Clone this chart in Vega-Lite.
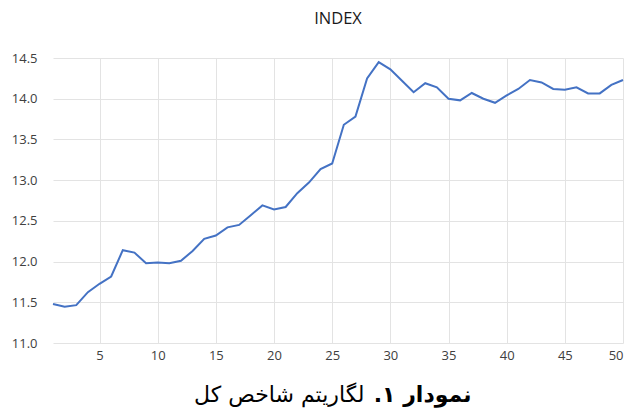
{
  "$schema": "https://vega.github.io/schema/vega-lite/v6.json",
  "width": 570,
  "height": 285,
  "autosize": {"type": "none"},
  "padding": {"left": 53, "top": 58, "right": 9, "bottom": 67},
  "background": "white",
  "title": {"text": "INDEX", "font": "Open Sans", "fontSize": 16.5, "fontWeight": "normal", "color": "#1a1a1a", "offset": 25, "anchor": "middle"},
  "data": {"values": [
    {"t": 1, "v": 11.48}, {"t": 2, "v": 11.445}, {"t": 3, "v": 11.465}, {"t": 4, "v": 11.624}, {"t": 5, "v": 11.727},
    {"t": 6, "v": 11.817}, {"t": 7, "v": 12.14}, {"t": 8, "v": 12.11}, {"t": 9, "v": 11.98}, {"t": 10, "v": 11.99},
    {"t": 11, "v": 11.98}, {"t": 12, "v": 12.01}, {"t": 13, "v": 12.13}, {"t": 14, "v": 12.28}, {"t": 15, "v": 12.32},
    {"t": 16, "v": 12.42}, {"t": 17, "v": 12.45}, {"t": 18, "v": 12.57}, {"t": 19, "v": 12.69}, {"t": 20, "v": 12.64},
    {"t": 21, "v": 12.67}, {"t": 22, "v": 12.84}, {"t": 23, "v": 12.97}, {"t": 24, "v": 13.135}, {"t": 25, "v": 13.205},
    {"t": 26, "v": 13.68}, {"t": 27, "v": 13.78}, {"t": 28, "v": 14.25}, {"t": 29, "v": 14.45}, {"t": 30, "v": 14.36},
    {"t": 31, "v": 14.22}, {"t": 32, "v": 14.08}, {"t": 33, "v": 14.19}, {"t": 34, "v": 14.14}, {"t": 35, "v": 14.0},
    {"t": 36, "v": 13.98}, {"t": 37, "v": 14.07}, {"t": 38, "v": 14.0}, {"t": 39, "v": 13.95}, {"t": 40, "v": 14.04},
    {"t": 41, "v": 14.12}, {"t": 42, "v": 14.23}, {"t": 43, "v": 14.2}, {"t": 44, "v": 14.12}, {"t": 45, "v": 14.11},
    {"t": 46, "v": 14.14}, {"t": 47, "v": 14.065}, {"t": 48, "v": 14.065}, {"t": 49, "v": 14.17}, {"t": 50, "v": 14.23}
  ]},
  "layer": [
    {
      "mark": {"type": "line", "color": "#4472C4", "strokeWidth": 2},
      "encoding": {
        "x": {
          "field": "t", "type": "quantitative",
          "scale": {"domain": [1, 50], "nice": false, "zero": false},
          "axis": {
            "orient": "bottom",
            "values": [5, 10, 15, 20, 25, 30, 35, 40, 45, 50],
            "domain": false, "ticks": false, "gridColor": "#e3e3e3", "gridWidth": 1,
            "labelFont": "Open Sans", "labelFontSize": 13, "labelColor": "#404040", "labelPadding": 6,
            "title": "لگاریتم شاخص کل",
            "titleFont": "DejaVu Sans", "titleFontSize": 22, "titleFontWeight": "normal", "titleColor": "#000000",
            "titleAlign": "right", "titleAnchor": null, "titleX": 311, "titleY": 58, "titleBaseline": "alphabetic"
          }
        },
        "y": {
          "field": "v", "type": "quantitative",
          "scale": {"domain": [11, 14.5], "nice": false, "zero": false},
          "axis": {
            "values": [11, 11.5, 12, 12.5, 13, 13.5, 14, 14.5],
            "format": ".1f",
            "domain": false, "ticks": false, "gridColor": "#e3e3e3", "gridWidth": 1,
            "labelFont": "Open Sans", "labelFontSize": 13, "labelColor": "#404040", "labelPadding": 16,
            "title": null
          }
        }
      }
    },
    {
      "mark": {"type": "line", "opacity": 0},
      "encoding": {
        "x": {
          "field": "t", "type": "quantitative",
          "scale": {"domain": [1, 50], "nice": false, "zero": false},
          "axis": {
            "orient": "bottom",
            "labels": false, "grid": false, "domain": false, "ticks": false,
            "title": "نمودار ۱.\u200f",
            "titleFont": "DejaVu Sans", "titleFontSize": 22, "titleFontWeight": "bold", "titleColor": "#000000",
            "titleAlign": "right", "titleAnchor": null, "titleX": 418, "titleY": 58, "titleBaseline": "alphabetic"
          }
        },
        "y": {"field": "v", "type": "quantitative", "scale": {"domain": [11, 14.5], "nice": false, "zero": false}}
      }
    }
  ],
  "resolve": {"axis": {"x": "independent"}},
  "config": {"view": {"stroke": null}}
}
